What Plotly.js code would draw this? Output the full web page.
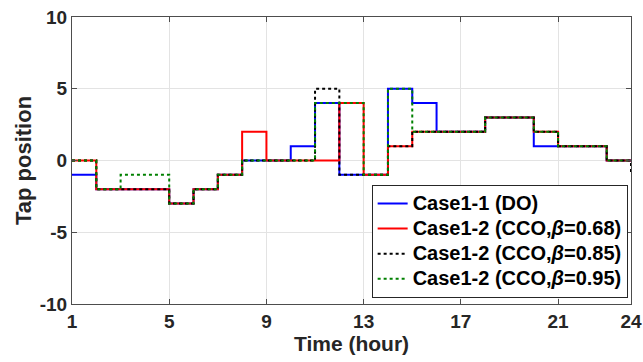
<!DOCTYPE html>
<html><head><meta charset="utf-8">
<script src="https://cdn.plot.ly/plotly-3.0.1.min.js"></script>
<style>html,body{margin:0;padding:0;background:#fff}#chart{width:643px;height:362px}
.legendtext{font-size:20px !important;}</style>
</head><body><div id="chart"></div>
<script>
const hours = [1,2,3,4,5,6,7,8,9,10,11,12,13,14,15,16,17,18,19,20,21,22,23,24];
const caseDO   = [-1,-2,-2,-2,-3,-2,-1,0,0,1,4,-1,-1,5,4,2,2,3,3,1,1,1,0,0];
const cco068   = [0,-2,-2,-2,-3,-2,-1,2,0,0,0,4,-1,1,2,2,2,3,3,2,1,1,0,0];
const cco085   = [0,-2,-2,-2,-3,-2,-1,0,0,0,5,-1,-1,1,2,2,2,3,3,2,1,1,0,-1];
const cco095   = [0,-2,-1,-1,-3,-2,-1,0,0,0,4,4,-1,5,2,2,2,3,3,2,1,1,0,0];
const seriesNames = ['Case1-1 (DO)','Case1-2 (CCO,<i>β</i>=0.68)','Case1-2 (CCO,<i>β</i>=0.85)','Case1-2 (CCO,<i>β</i>=0.95)'];
const xTicks = [1,5,9,13,17,21,24];
const yTicks = [-10,-5,0,5,10];

const styles = [
  {color:'#0000ff', dash:'solid'},
  {color:'#ff0000', dash:'solid'},
  {color:'#000000', dash:'dot'},
  {color:'#008000', dash:'dot'}
];
const ys = [caseDO, cco068, cco085, cco095];
const traces = ys.map((y,i)=>({
  x: hours, y: y, name: seriesNames[i], type:'scatter', mode:'lines',
  line:{shape:'hv', width:2, color:styles[i].color, dash:styles[i].dash}
}));
const fontFam = '"Liberation Sans", Arial, sans-serif';
const layout = {
  width:643, height:362,
  margin:{l:72, r:12, t:17, b:58},
  paper_bgcolor:'#fff', plot_bgcolor:'#fff',
  font:{family:fontFam, size:19, color:'#262626', weight:'bold'},
  showlegend:true,
  xaxis:{range:[1,24], tickvals:xTicks, ticktext:xTicks.map(String),
    showgrid:true, gridcolor:'#e3e3e3', gridwidth:1, zeroline:false,
    showline:true, mirror:'ticks', linecolor:'#4d4d4d', linewidth:1,
    ticks:'inside', ticklen:5, tickcolor:'#4d4d4d',
    tickfont:{family:fontFam, size:19, color:'#262626', weight:'bold'},
    title:{text:'Time (hour)', font:{family:fontFam, size:21, color:'#262626', weight:'bold'}, standoff:5}},
  yaxis:{range:[-10,10], tickvals:yTicks, ticktext:yTicks.map(String),
    showgrid:true, gridcolor:'#e3e3e3', gridwidth:1, zeroline:false,
    showline:true, mirror:'ticks', linecolor:'#4d4d4d', linewidth:1,
    ticks:'inside', ticklen:5, tickcolor:'#4d4d4d',
    tickfont:{family:fontFam, size:19, color:'#262626', weight:'bold'},
    title:{text:'Tap position', font:{family:fontFam, size:22, color:'#262626', weight:'bold'}, standoff:2}},
  legend:{x:0.994, y:0.021, xanchor:'right', yanchor:'bottom',
    bgcolor:'#ffffff', bordercolor:'#262626', borderwidth:1,
    font:{family:fontFam, size:17, color:'#000', weight:'bold'},
    itemwidth:30, tracegroupgap:0}
};
Plotly.newPlot('chart', traces, layout, {displayModeBar:false, staticPlot:true});
</script></body></html>
